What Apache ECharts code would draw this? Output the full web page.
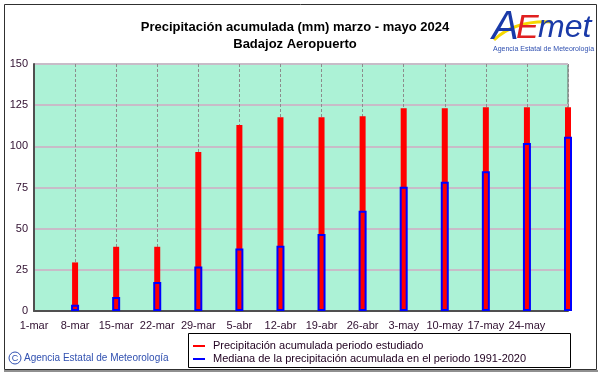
<!DOCTYPE html>
<html>
<head>
<meta charset="utf-8">
<script src="https://cdn.jsdelivr.net/npm/echarts@6/dist/echarts.min.js"></script>
<style>
html,body{margin:0;padding:0;background:#fff;}
#chart{width:601px;height:374px;}
</style>
</head>
<body>
<div id="chart"></div>
<script>
const startDate = '2024-03-01';
const endDate = '2024-05-31';
const tickLabels = ['1-mar','8-mar','15-mar','22-mar','29-mar','5-abr','12-abr','19-abr','26-abr','3-may','10-may','17-may','24-may'];
const barDates = ['2024-03-08','2024-03-15','2024-03-22','2024-03-29','2024-04-05','2024-04-12','2024-04-19','2024-04-26','2024-05-03','2024-05-10','2024-05-17','2024-05-24','2024-05-31'];
const precip2024 = [29.5, 39, 39, 96.5, 113, 117.7, 117.7, 118.3, 123.2, 123.2, 123.8, 123.8, 123.8];
const median19912020 = [3.8, 8.5, 17.6, 27.1, 37.9, 39.7, 46.8, 60.9, 75.5, 78.5, 84.8, 102, 105.8];
const seriesNames = ['Precipitación acumulada periodo estudiado', 'Mediana de la precipitación acumulada en el periodo 1991-2020'];
const titleLines = ['Precipitación acumulada (mm) marzo - mayo 2024', 'Badajoz Aeropuerto'];

const DAY = 86400000;
const dayIndex = d => Math.round((Date.parse(d) - Date.parse(startDate)) / DAY);
const maxDay = dayIndex(endDate);

const chart = echarts.init(document.getElementById('chart'), null, {renderer: 'canvas'});
const FONT = 'Liberation Sans, Arial, sans-serif';

chart.setOption({
  animation: false,
  backgroundColor: '#ffffff',
  grid: {
    left: 34, right: 33, top: 64, bottom: 63,
    show: true, backgroundColor: '#acf2d6', borderColor: '#606060', borderWidth: 1
  },
  legend: {
    orient: 'vertical',
    left: 193, top: 340,
    itemWidth: 12, itemHeight: 2, itemGap: 1,
    padding: 0,
    textStyle: {fontFamily: FONT, fontSize: 11, color: '#200020', lineHeight: 12, padding: [0, 0, 0, 3]},
    data: [
      {name: seriesNames[0], icon: 'rect', itemStyle: {color: '#ff0000', borderWidth: 0}},
      {name: seriesNames[1], icon: 'rect', itemStyle: {color: '#0000ff', borderWidth: 0}}
    ]
  },
  xAxis: [{
    type: 'value', min: 0, max: maxDay, interval: 7,
    axisLine: {show: true, lineStyle: {color: '#505050', width: 2}},
    axisTick: {show: false},
    axisLabel: {
      fontFamily: FONT, fontSize: 11, color: '#301030', margin: 9,
      showMaxLabel: true,
      formatter: v => tickLabels[v / 7] || ''
    },
    splitLine: {show: true, lineStyle: {color: '#8c8c8c', width: 1, type: [3, 2]}}
  }, {
    type: 'value', min: 0, max: maxDay, interval: 7, show: false,
    splitLine: {show: false}
  }],
  yAxis: {
    type: 'value', min: 0, max: 150, interval: 25,
    axisLine: {show: true, lineStyle: {color: '#505050', width: 2}},
    axisTick: {show: false},
    axisLabel: {fontFamily: FONT, fontSize: 11, color: '#301030', margin: 6},
    splitLine: {show: true, lineStyle: {color: '#c8bcc8', width: 2}}
  },
  series: [
    {
      name: seriesNames[0], type: 'bar', xAxisIndex: 0, barWidth: 6, clip: false,
      itemStyle: {color: '#ff0000'},
      data: barDates.map((d, i) => [dayIndex(d), precip2024[i]])
    },
    {
      name: seriesNames[1], type: 'bar', xAxisIndex: 1, barWidth: 8, clip: false,
      itemStyle: {color: 'rgba(0,0,0,0)', borderColor: '#0000ff', borderWidth: 2},
      data: barDates.map((d, i) => [dayIndex(d), median19912020[i]])
    }
  ],
  graphic: [
    {type: 'rect', shape: {x: 4.5, y: 4.5, width: 592, height: 365}, style: {fill: 'none', stroke: '#303030', lineWidth: 1}, z: -1},
    {type: 'line', shape: {x1: 4, y1: 371, x2: 598, y2: 371}, style: {stroke: '#909090', lineWidth: 2}},
    {type: 'text', x: 295, y: 27, style: {text: titleLines[0], font: 'bold 13px ' + FONT, fill: '#000', align: 'center', verticalAlign: 'middle'}},
    {type: 'text', x: 295, y: 44, style: {text: titleLines[1], font: 'bold 13px ' + FONT, fill: '#000', align: 'center', verticalAlign: 'middle'}},
    {type: 'rect', shape: {x: 188.5, y: 333.5, width: 382, height: 34}, style: {fill: 'none', stroke: '#000', lineWidth: 1}},
    {type: 'circle', shape: {cx: 15, cy: 358, r: 6}, style: {fill: 'none', stroke: '#3050b0', lineWidth: 1}},
    {type: 'text', x: 15, y: 358.5, style: {text: 'C', font: '9px ' + FONT, fill: '#3050b0', align: 'center', verticalAlign: 'middle'}},
    {type: 'text', x: 24, y: 358, style: {text: 'Agencia Estatal de Meteorología', font: '10px ' + FONT, fill: '#3050b0', verticalAlign: 'middle'}},
    {type: 'bezierCurve', shape: {x1: 494, y1: 40, x2: 552, y2: 22, cpx1: 515, cpy1: 20}, style: {stroke: '#f5d800', lineWidth: 3, fill: 'none'}},
    {type: 'text', x: 492, y: 8, style: {text: 'A', font: 'italic 40px ' + FONT, fill: '#1a3aa8'}},
    {type: 'text', x: 516, y: 12, style: {text: 'E', font: 'italic 34px ' + FONT, fill: '#e02020'}},
    {type: 'text', x: 538, y: 12, style: {text: 'met', font: 'italic 32px ' + FONT, fill: '#1a3aa8'}},
    {type: 'text', x: 493, y: 46, style: {text: 'Agencia Estatal de Meteorología', font: '7px ' + FONT, fill: '#3050b0'}}
  ]
});
</script>
</body>
</html>
